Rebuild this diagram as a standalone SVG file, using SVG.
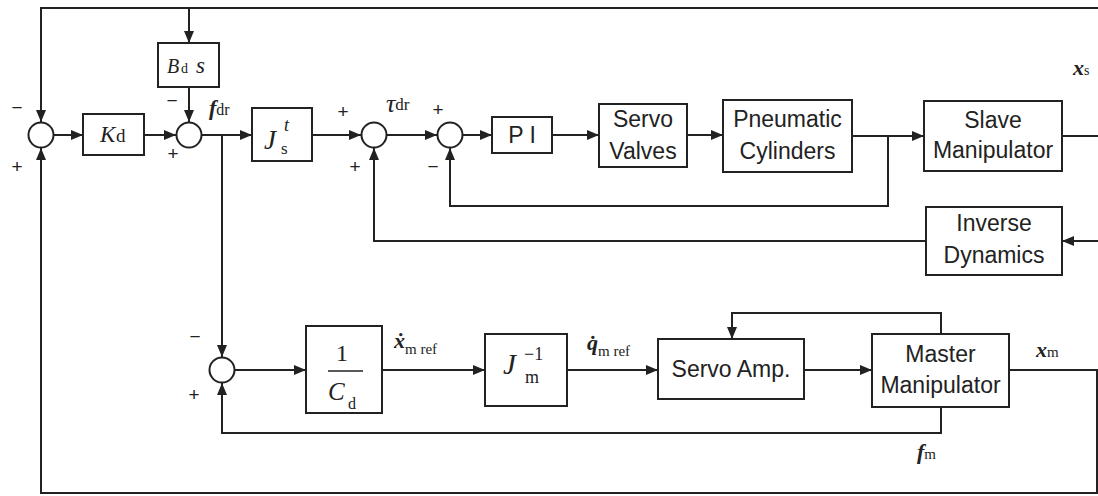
<svg xmlns="http://www.w3.org/2000/svg" width="1098" height="496" viewBox="0 0 1098 496">
<style>
.box{fill:#fff;stroke:#222;stroke-width:2}
.sum{fill:#fff;stroke:#222;stroke-width:2}
.ln{fill:none;stroke:#222;stroke-width:2}
.lbl{font-family:"Liberation Sans",Arial,sans-serif;font-size:23px;fill:#222;text-anchor:middle}
.sg{font-family:"Liberation Sans",Arial,sans-serif;font-size:19px;fill:#222;text-anchor:middle}
.mi{font-family:"Liberation Serif","Times New Roman",serif;font-style:italic;fill:#222}
.mb{font-family:"Liberation Serif","Times New Roman",serif;font-style:italic;font-weight:bold;fill:#222}
.mr{font-family:"Liberation Serif","Times New Roman",serif;font-style:normal;font-weight:normal;fill:#222}
</style>
<defs>
<marker id="ar" markerWidth="12" markerHeight="10" refX="12" refY="5" orient="auto" markerUnits="userSpaceOnUse">
<path d="M0,0 L12,5 L0,10 z" fill="#222"/>
</marker>
</defs>
<rect width="1098" height="496" fill="#fff"/>

<g id="connectors">
<path class="ln" d="M1098,8 H41 V122" marker-end="url(#ar)"/>
<path class="ln" d="M189,8 V43" marker-end="url(#ar)"/>
<path class="ln" d="M189,87 V122" marker-end="url(#ar)"/>
<path class="ln" d="M54,135 H83" marker-end="url(#ar)"/>
<path class="ln" d="M144,135 H176" marker-end="url(#ar)"/>
<path class="ln" d="M202,135 H252" marker-end="url(#ar)"/>
<path class="ln" d="M222,135 V357" marker-end="url(#ar)"/>
<path class="ln" d="M312,135 H361" marker-end="url(#ar)"/>
<path class="ln" d="M387,135 H437" marker-end="url(#ar)"/>
<path class="ln" d="M463,135 H492" marker-end="url(#ar)"/>
<path class="ln" d="M552,135 H599" marker-end="url(#ar)"/>
<path class="ln" d="M687,135 H723" marker-end="url(#ar)"/>
<path class="ln" d="M852,136 H924" marker-end="url(#ar)"/>
<path class="ln" d="M888,136 V206 H450 V148" marker-end="url(#ar)"/>
<path class="ln" d="M1062,136 H1098"/>
<path class="ln" d="M1098,241 H1062" marker-end="url(#ar)"/>
<path class="ln" d="M926,241 H374 V148" marker-end="url(#ar)"/>
<path class="ln" d="M235,370 H306" marker-end="url(#ar)"/>
<path class="ln" d="M382,370 H485" marker-end="url(#ar)"/>
<path class="ln" d="M567,370 H658" marker-end="url(#ar)"/>
<path class="ln" d="M804,370 H872" marker-end="url(#ar)"/>
<path class="ln" d="M941,334 V313 H732 V339" marker-end="url(#ar)"/>
<path class="ln" d="M941,407 V433 H222 V383" marker-end="url(#ar)"/>
<path class="ln" d="M1009,370 H1097 V493 H41 V148" marker-end="url(#ar)"/>
</g>

<g id="sum1"><circle class="sum" cx="41" cy="135" r="12.5"/>
<text class="sg" x="17" y="114">−</text><text class="sg" x="17" y="173">+</text></g>
<g id="sum2"><circle class="sum" cx="189" cy="135" r="12.5"/>
<text class="sg" x="172" y="107">−</text><text class="sg" x="173" y="160">+</text></g>
<g id="sum3"><circle class="sum" cx="374" cy="135" r="12.5"/>
<text class="sg" x="343" y="118">+</text><text class="sg" x="355" y="173">+</text></g>
<g id="sum4"><circle class="sum" cx="450" cy="135" r="12.5"/>
<text class="sg" x="438" y="116">+</text><text class="sg" x="433" y="173">−</text></g>
<g id="sum5"><circle class="sum" cx="222" cy="370" r="12.5"/>
<text class="sg" x="195" y="343">−</text><text class="sg" x="194" y="401">+</text></g>

<g id="Kd"><rect class="box" x="83" y="114" width="61" height="41"/>
<text class="mi" x="100" y="142" font-size="23">K</text><text class="mr" x="116" y="142" font-size="19">d</text></g>

<g id="Bds"><rect class="box" x="158" y="43" width="61" height="44"/>
<text class="mi" x="167" y="73" font-size="20">B</text><text class="mr" x="181" y="73" font-size="14">d</text><text class="mi" x="196" y="73" font-size="23">s</text></g>

<g id="Jst"><rect class="box" x="252" y="108" width="60" height="53"/>
<text class="mi" x="264" y="149" font-size="27">J</text><text class="mi" x="284" y="131" font-size="18">t</text><text class="mr" x="281" y="154" font-size="17">s</text></g>

<g id="PI"><rect class="box" x="492" y="117" width="60" height="36"/>
<text class="lbl" x="522" y="143" font-size="22">P I</text></g>

<g id="servovalves"><rect class="box" x="599" y="104" width="88" height="63"/>
<text class="lbl" x="643" y="127">Servo</text><text class="lbl" x="643" y="159">Valves</text></g>

<g id="pneumatic"><rect class="box" x="723" y="100" width="129" height="72"/>
<text class="lbl" x="787.5" y="127">Pneumatic</text><text class="lbl" x="787.5" y="159">Cylinders</text></g>

<g id="slave"><rect class="box" x="924" y="101" width="138" height="70"/>
<text class="lbl" x="993" y="128">Slave</text><text class="lbl" x="993" y="158">Manipulator</text></g>

<g id="invdyn"><rect class="box" x="926" y="207" width="136" height="68"/>
<text class="lbl" x="994" y="231">Inverse</text><text class="lbl" x="994" y="263">Dynamics</text></g>

<g id="invCd"><rect class="box" x="306" y="326" width="76" height="87"/>
<text class="mr" x="342" y="361" font-size="24" text-anchor="middle">1</text>
<line x1="328" y1="371" x2="363" y2="371" stroke="#222" stroke-width="1.5"/>
<text class="mi" x="328" y="400" font-size="25">C</text><text class="mr" x="348" y="409" font-size="16">d</text></g>

<g id="Jminv"><rect class="box" x="485" y="334" width="82" height="72"/>
<text class="mi" x="503" y="374" font-size="29">J</text><text class="mr" x="524" y="360" font-size="18">−1</text><text class="mr" x="525" y="383" font-size="18">m</text></g>

<g id="servoamp"><rect class="box" x="658" y="339" width="146" height="60"/>
<text class="lbl" x="731" y="377">Servo Amp.</text></g>

<g id="master"><rect class="box" x="872" y="334" width="137" height="73"/>
<text class="lbl" x="940.5" y="362">Master</text><text class="lbl" x="940.5" y="393">Manipulator</text></g>

<g id="labels">
<text class="mb" x="209" y="115" font-size="22">f<tspan class="mr" font-size="16">dr</tspan></text>
<text class="mi" x="386" y="112" font-size="26">τ<tspan class="mr" font-size="17" dy="-2">dr</tspan></text>
<text class="mb" x="1073" y="75" font-size="22">x<tspan class="mr" font-size="14">s</tspan></text>
<text class="mb" x="1036" y="357" font-size="22">x<tspan class="mr" font-size="15">m</tspan></text>
<text class="mb" x="917" y="459" font-size="22">f<tspan class="mr" font-size="15">m</tspan></text>
<text class="mb" x="394" y="348" font-size="22">ẋ<tspan class="mr" font-size="15" dy="6">m ref</tspan></text>
<text class="mb" x="587" y="350" font-size="22">q̇<tspan class="mr" font-size="15" dy="6">m ref</tspan></text>
</g>
</svg>
